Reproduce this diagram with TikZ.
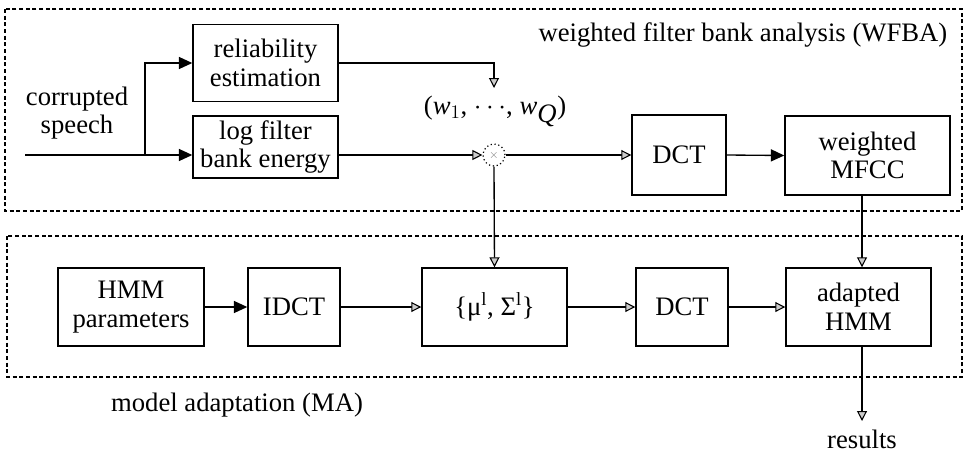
\documentclass[tikz,border=0pt]{standalone}
\usepackage{fontspec}
\setmainfont{Liberation Serif}
\newfontfamily\diagfont{Liberation Serif}
\usetikzlibrary{arrows.meta}
\begin{document}
\begin{tikzpicture}[x=0.75pt,y=-0.75pt,
  every node/.style={font=\diagfont\fontsize{20}{21.5}\selectfont},
  block/.style={draw,line width=1.1pt,align=center,inner sep=0pt},
  region/.style={draw,line width=0.9pt,dash pattern=on 3pt off 2pt},
  link/.style={line width=1pt},
  solidtip/.style={link,-{Triangle[length=10pt,width=9pt]}},
  opentip/.style={link,-{Triangle[length=7.5pt,width=7.5pt,fill=gray!40,line width=0.8pt]}}]
\useasboundingbox (0,0) rectangle (964,454);

% dashed regions
\draw[region] (5,9) rectangle (962,211);
\draw[region] (7,236) rectangle (962,377);
\node[anchor=east] (wfba) at (952,35) {weighted filter bank analysis (WFBA)};
\node (ma) at (237,405) {model adaptation (MA)};

% analysis path
\node[block,minimum width=145*0.75pt,minimum height=77*0.75pt] (rel) at (265.5,63) {reliability\\estimation};
\node[block,minimum width=145*0.75pt,minimum height=62*0.75pt] (logfb) at (265.5,147) {log filter\\bank energy};
\node[align=center] (speech) at (77,113) {corrupted\\speech};
\coordinate (src) at (25,155);
\coordinate (split) at (145,155);
\node[draw,circle,dotted,line width=0.9pt,minimum size=22*0.75pt,inner sep=0pt] (mult) at (494,155) {};
\node[text=gray,font=\fontsize{9}{9}\selectfont] (multsym) at (mult) {$\times$};
\node (weights) at (495,111) {(\textit{w}$_1$, $\cdots$, \textit{w}$_{\textit{Q}}$)};
\coordinate (relend) at (494,88);
\node[block,minimum width=94*0.75pt,minimum height=80*0.75pt] (dcta) at (679,155) {DCT};
\node[block,minimum width=165*0.75pt,minimum height=79*0.75pt] (mfcc) at (867.5,155.5) {weighted\\MFCC};

% adaptation path
\node[block,minimum width=146*0.75pt,minimum height=78*0.75pt] (hmm) at (131,307) {HMM\\parameters};
\node[block,minimum width=92*0.75pt,minimum height=78*0.75pt] (idct) at (294,307) {IDCT};
\node[block,minimum width=145*0.75pt,minimum height=78*0.75pt] (musig) at (494.5,307) {\{μ\textsuperscript{l}, Σ\textsuperscript{l}\}};
\node[block,minimum width=92*0.75pt,minimum height=78*0.75pt] (dctb) at (682,307) {DCT};
\node[block,minimum width=145*0.75pt,minimum height=78*0.75pt] (adapt) at (858.5,307) {adapted\\HMM};
\node[inner sep=1pt] (results) at (862,439) {results};
\coordinate (mfccout) at (862,155);
\coordinate (resend) at (862,421);

% connectors
\draw[link] (src) -- (split);
\draw[solidtip] (split) -- (split -| logfb.west);
\draw[solidtip] (split) |- (rel.west);
\draw[opentip] (rel.east) -| (relend);
\draw[opentip] (logfb.east |- mult) -- (mult.west);
\draw[opentip] (mult.east) -- (dcta.west);
\draw[solidtip] (dcta.east) -- (mfcc.west);
\draw[opentip] (mult.south) -- (musig.north);
\draw[opentip] (mfccout |- mfcc.south) -- (mfccout |- adapt.north);
\draw[solidtip] (hmm.east) -- (idct.west);
\draw[opentip] (idct.east) -- (musig.west);
\draw[opentip] (musig.east) -- (dctb.west);
\draw[opentip] (dctb.east) -- (adapt.west);
\draw[opentip] (mfccout |- adapt.south) -- (resend);
\end{tikzpicture}
\end{document}
